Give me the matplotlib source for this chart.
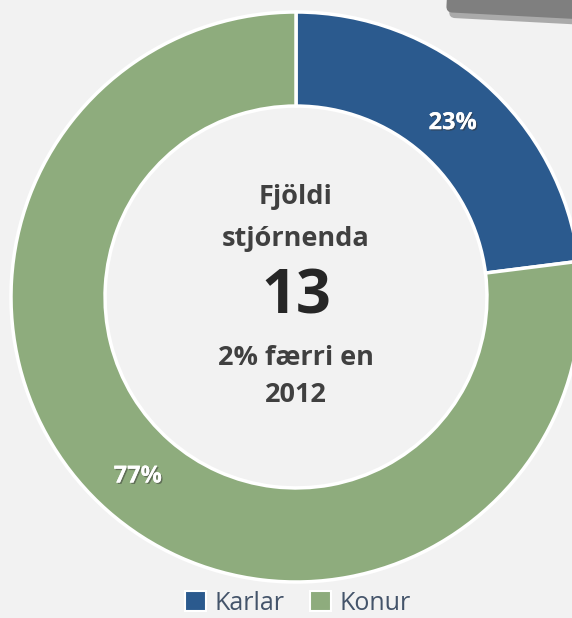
import matplotlib.pyplot as plt
import matplotlib.patheffects as pe
from matplotlib.patches import FancyBboxPatch, Patch
import matplotlib.transforms as mtransforms

# data
labels = ["Karlar", "Konur"]
shares = [23, 77]
colors = ["#2b5a8e", "#8eac7d"]
center_lines = ["Fjöldi", "stjórnenda"]
total = "13"
change_lines = ["2% færri en", "2012"]

plt.rcParams['font.family'] = ['Open Sans', 'DejaVu Sans']

W, H = 572, 618
fig = plt.figure(figsize=(W / 100, H / 100), dpi=100)
fig.patch.set_facecolor("#f2f2f2")
ax = fig.add_axes([0, 0, 1, 1])
ax.set_facecolor("#f2f2f2")

wedges, _ = ax.pie(shares, colors=colors, startangle=90, counterclock=False,
                   radius=1.0, wedgeprops=dict(width=0.33, edgecolor="white", linewidth=2.5))

# pixel geometry of the ring
cx, cy, R = 296, 297, 285
ax.set_aspect("auto")
ax.set_xlim(-cx / R, (W - cx) / R)
ax.set_ylim(-(H - cy) / R, cy / R)
ax.axis("off")

# percent labels
shadow = [pe.withSimplePatchShadow(offset=(1, -1), shadow_rgbFace="#333333", alpha=0.5), pe.Normal()]
ax.text(0.55, 0.61, f"{shares[0]}%", ha="center", va="center", color="white",
        fontsize=17, fontweight="bold", path_effects=shadow)
ax.text(-0.555, -0.63, f"{shares[1]}%", ha="center", va="center", color="white",
        fontsize=17, fontweight="bold", path_effects=shadow)

# center text
txt = dict(ha="center", va="center", fontsize=19.5, color="#404040", fontweight="bold")
ax.text(0, 0.35, center_lines[0], **txt)
ax.text(0, 0.205, center_lines[1], **txt)
ax.text(0, -0.005, total, ha="center", va="center", fontsize=44, color="#262626", fontweight="bold")
ax.text(0, -0.215, change_lines[0], **txt)
ax.text(0, -0.345, change_lines[1], **txt)

# gray box peeking in at the top right corner
box = FancyBboxPatch((448, 603), 220, 70, boxstyle="round,pad=0,rounding_size=6",
                     facecolor="#7f7f7f", edgecolor="none",
                     transform=mtransforms.Affine2D().rotate_deg_around(500, 640, -3),
                     path_effects=[pe.SimplePatchShadow(offset=(2, -4), alpha=0.35), pe.Normal()])
fig.patches.append(box)

# legend
handles = [Patch(facecolor=c, edgecolor="white", linewidth=1.5) for c in colors]
leg = fig.legend(handles, labels, loc="center", bbox_to_anchor=(0.521, 0.024), ncol=2,
                 frameon=False, fontsize=18, handlelength=0.85, handleheight=0.85,
                 handletextpad=0.35, columnspacing=1.0, labelcolor="#44546a",
                 borderpad=0.1)

fig.savefig("out.png", dpi=100, facecolor=fig.get_facecolor())
